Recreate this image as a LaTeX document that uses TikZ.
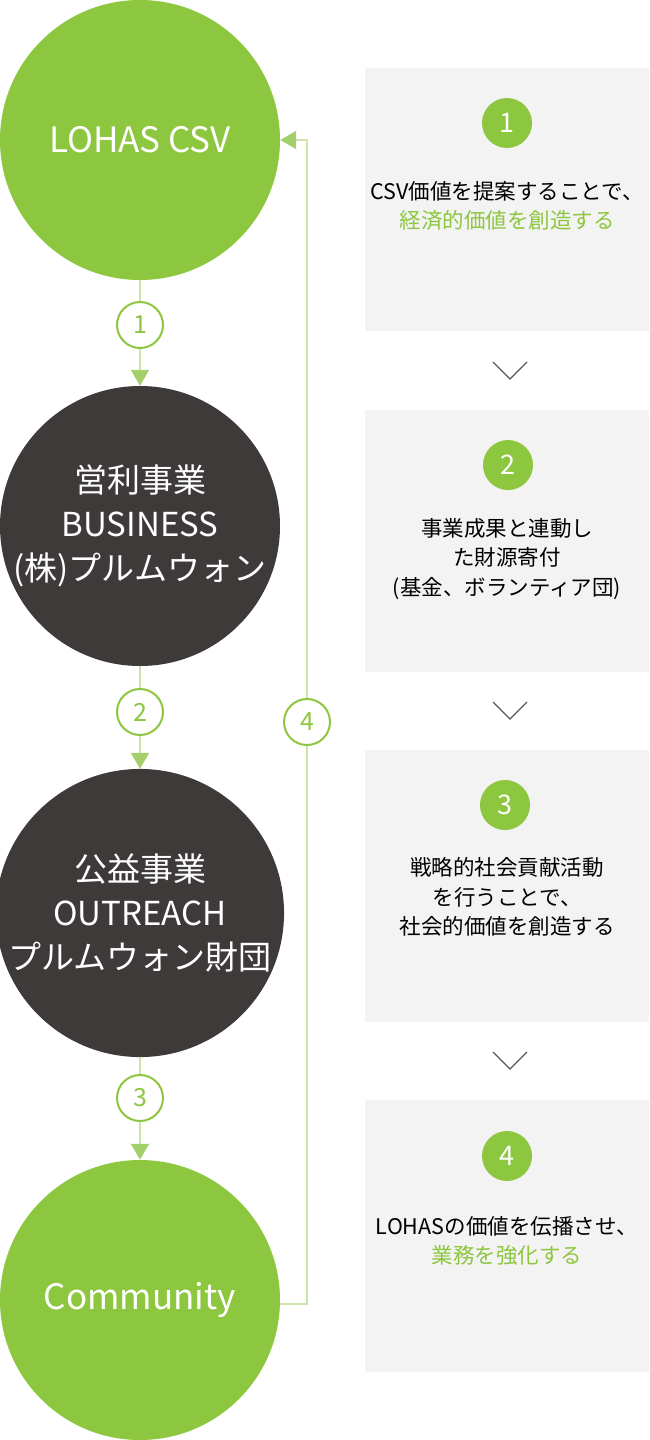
\documentclass[tikz,border=0pt]{standalone}
\usepackage{fontspec}
\setmainfont{Noto Sans CJK JP}
\usepackage{xcolor}
\usepackage{tikz}
\usetikzlibrary{arrows.meta,positioning,calc}
\definecolor{leaf}{HTML}{8DC63F}
\definecolor{bark}{HTML}{3E3A39}
\definecolor{stem}{HTML}{CDE5AD}
\definecolor{tipgreen}{HTML}{A5CF6B}
\definecolor{panelgray}{HTML}{F3F3F3}
\newcommand{\bigtxt}{\fontsize{33}{44}\selectfont}
\newcommand{\boxtxt}{\fontsize{21.5}{29.5}\selectfont}

\begin{document}
\begin{tikzpicture}[x=1pt, y=-1pt,
  stage/.style={circle, minimum size=280, inner sep=0, text=white, align=center, font=\bigtxt},
  stepmark/.style={circle, draw=leaf, line width=2, fill=white, minimum size=46, inner sep=0,
    text=leaf, font=\fontsize{25}{25}\selectfont},
  badge/.style={circle, fill=leaf, minimum size=50, inner sep=0, text=white,
    font=\fontsize{27}{27}\selectfont},
  panel/.style={fill=panelgray, minimum width=284, inner sep=0},
  link/.style={draw=stem, line width=2, -{Triangle[length=16, width=18, color=tipgreen]}},
  chevron/.style={draw=black!65, line width=1.3}]
  \useasboundingbox (0,0) rectangle (649,1440);
  % the four stages
  \node[stage, fill=leaf, font=\fontsize{35}{44}\selectfont] (csv) at (140,140) {LOHAS CSV};
  \node[stage, fill=bark] (biz) at (140,526) {営利事業\\BUSINESS\\(株)プルムウォン};
  \node[stage, fill=bark] (outreach) at (140,913) {公益事業\\OUTREACH\\プルムウォン財団};
  \node[stage, fill=leaf, font=\fontsize{35}{44}\selectfont] (community) at (140,1300) {Community};
  % downward links
  \draw[link] (csv) -- (biz);
  \draw[link] (biz) -- (outreach);
  \draw[link] (outreach) -- (community);
  % feedback loop back to the top
  \coordinate (turn) at (307,1304);
  \draw[link] (community.east |- turn) -- (turn) |- (csv.east);
  % step marks on the links
  \node[stepmark] (m1) at (140,325) {1};
  \node[stepmark] (m2) at (140,712) {2};
  \node[stepmark] (m3) at (140,1098) {3};
  \node[stepmark] (m4) at (307,722) {4};
  % grey panels on the right
  \node[panel, minimum height=263] (box1) at (507,199.5) {};
  \node[panel, minimum height=262] (box2) at (507,541) {};
  \node[panel, minimum height=272] (box3) at (507,886) {};
  \node[panel, minimum height=272] (box4) at (507,1236) {};
  \node[badge] (b1) at (507,123) {1};
  \node[badge] (b2) at (508,465) {2};
  \node[badge] (b3) at (505,805) {3};
  \node[badge] (b4) at (507,1156) {4};
  \node[align=center, font=\boxtxt] (t1) at (507,206)
    {CSV価値を提案することで、\\\textcolor{leaf}{経済的価値を創造する}};
  \node[align=center, font=\boxtxt] (t2) at (507,559)
    {事業成果と連動し\\た財源寄付\\(基金、ボランティア団)};
  \node[align=center, font=\boxtxt] (t3) at (507,897)
    {戦略的社会貢献活動\\を行うことで、\\社会的価値を創造する};
  \node[align=center, font=\boxtxt] (t4) at (507,1241)
    {LOHASの価値を伝播させ、\\\textcolor{leaf}{業務を強化する}};
  % chevrons between the panels
  \draw[chevron] (493,362) -- (510,379) -- (527,362);
  \draw[chevron] (493,702) -- (510,719) -- (527,702);
  \draw[chevron] (493,1052) -- (510,1069) -- (527,1052);
\end{tikzpicture}
\end{document}
